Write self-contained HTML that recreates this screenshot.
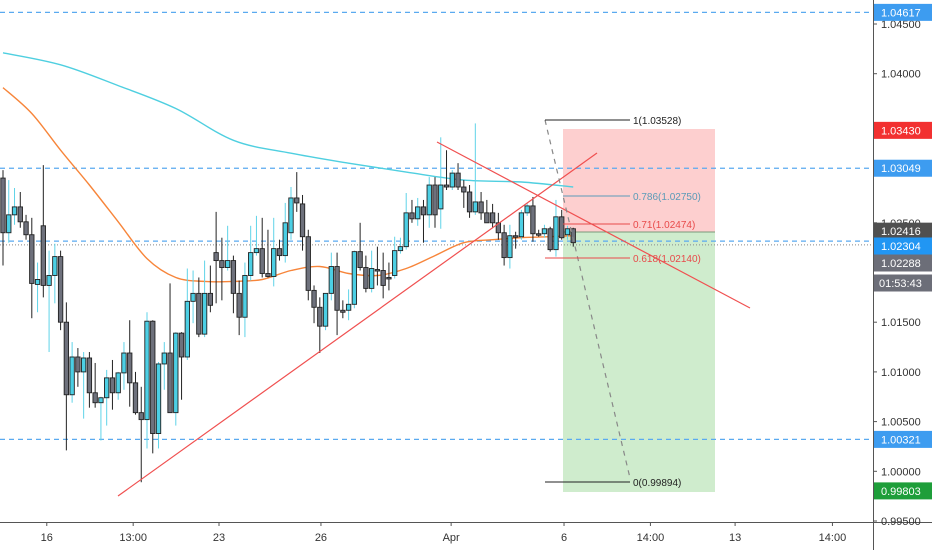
<!DOCTYPE html>
<html><head><meta charset="utf-8"><style>
body{margin:0;background:#fff;font-family:"Liberation Sans",sans-serif}
svg{display:block}
</style></head><body>
<svg id="chart" width="932" height="550" xmlns="http://www.w3.org/2000/svg" font-family="Liberation Sans, sans-serif" font-size="11"></svg>
<script>
const opens=[1.0295,1.0240,1.0258,1.0266,1.0251,1.0238,1.0188,1.0247,1.0187,1.0197,1.0216,1.0150,1.0077,1.0115,1.0100,1.0114,1.0079,1.0069,1.0074,1.0094,1.0079,1.0099,1.0119,1.0089,1.0059,1.0052,1.0151,1.0038,1.0108,1.0119,1.0059,1.0139,1.0115,1.0171,1.0179,1.0138,1.0179,1.0220,1.0212,1.0205,1.0212,1.0179,1.0155,1.0197,1.0220,1.0224,1.0199,1.0196,1.0224,1.0217,1.0240,1.0275,1.0269,1.0236,1.0182,1.0165,1.0146,1.0179,1.0206,1.0162,1.0162,1.0168,1.0221,1.0205,1.0184,1.0203,1.0202,1.0195,1.0197,1.0222,1.0226,1.0260,1.0254,1.0266,1.0258,1.0288,1.0264,1.0288,1.0286,1.0300,1.0286,1.0281,1.0261,1.0271,1.0260,1.0260,1.0250,1.0240,1.0215,1.0237,1.0236,1.0260,1.0267,1.0239,1.0239,1.0244,1.0223,1.0256,1.0238,1.0244];
const highs=[1.0303,1.0293,1.0285,1.0281,1.0258,1.0255,1.0210,1.0308,1.0222,1.0229,1.0222,1.0170,1.0130,1.0124,1.0120,1.0120,1.0109,1.0075,1.0102,1.0112,1.0100,1.0130,1.0152,1.0100,1.0085,1.0160,1.0152,1.0110,1.0130,1.0189,1.0140,1.0140,1.0204,1.0202,1.0195,1.0212,1.0207,1.0261,1.0235,1.0247,1.0217,1.0192,1.0210,1.0247,1.0257,1.0255,1.0243,1.0255,1.0233,1.0270,1.0286,1.0301,1.0278,1.0243,1.0187,1.0175,1.0167,1.0220,1.0220,1.0172,1.0183,1.0222,1.0250,1.0217,1.0222,1.0226,1.0220,1.0210,1.0236,1.0235,1.0280,1.0273,1.0275,1.0273,1.0296,1.0296,1.0336,1.0323,1.0303,1.0310,1.0293,1.0288,1.0350,1.0281,1.0273,1.0269,1.0260,1.0248,1.0248,1.0241,1.0263,1.0270,1.0276,1.0243,1.0248,1.0246,1.0273,1.0263,1.0247,1.0245];
const lows=[1.0207,1.0230,1.0248,1.0245,1.0233,1.0154,1.0160,1.0175,1.0120,1.0169,1.0142,1.0021,1.0069,1.0085,1.0053,1.0064,1.0064,1.0031,1.0046,1.0062,1.0072,1.0082,1.0065,1.0057,0.9989,1.0023,1.0018,1.0023,1.0082,1.0059,1.0046,1.0072,1.0112,1.0149,1.0135,1.0135,1.0160,1.0169,1.0172,1.0202,1.0159,1.0137,1.0135,1.0192,1.0217,1.0195,1.0195,1.0186,1.0212,1.0210,1.0233,1.0261,1.0222,1.0172,1.0149,1.0119,1.0142,1.0172,1.0137,1.0154,1.0152,1.0164,1.0202,1.0180,1.0180,1.0187,1.0174,1.0182,1.0194,1.0219,1.0223,1.0250,1.0247,1.0230,1.0245,1.0245,1.0244,1.0283,1.0283,1.0283,1.0265,1.0255,1.0258,1.0253,1.0250,1.0245,1.0233,1.0207,1.0204,1.0224,1.0233,1.0257,1.0231,1.0236,1.0235,1.0221,1.0216,1.0233,1.0233,1.0226];
const closes=[1.0240,1.0258,1.0266,1.0251,1.0238,1.0189,1.0193,1.0187,1.0197,1.0216,1.0150,1.0077,1.0115,1.0100,1.0114,1.0079,1.0069,1.0074,1.0094,1.0079,1.0099,1.0119,1.0089,1.0059,1.0052,1.0151,1.0038,1.0108,1.0119,1.0059,1.0139,1.0115,1.0171,1.0179,1.0138,1.0179,1.0167,1.0212,1.0205,1.0212,1.0179,1.0155,1.0197,1.0220,1.0224,1.0199,1.0196,1.0224,1.0217,1.0250,1.0275,1.0270,1.0236,1.0182,1.0165,1.0146,1.0179,1.0206,1.0162,1.0160,1.0168,1.0221,1.0205,1.0184,1.0204,1.0202,1.0187,1.0194,1.0222,1.0226,1.0260,1.0254,1.0266,1.0258,1.0288,1.0258,1.0288,1.0286,1.0300,1.0286,1.0281,1.0261,1.0271,1.0260,1.0250,1.0250,1.0240,1.0215,1.0237,1.0236,1.0260,1.0267,1.0239,1.0238,1.0244,1.0223,1.0256,1.0235,1.0244,1.0230];
const maFastIdx=[0,5,10,15,20,25,30,35,40,45,50,55,60,65,70,75,80,85,90,95,99];
const maFast=[1.0386,1.0360,1.0323,1.0288,1.0251,1.0214,1.0195,1.0191,1.0191,1.0193,1.0202,1.0206,1.0199,1.0197,1.0204,1.0217,1.0230,1.0233,1.0235,1.0236,1.0237];
const maSlowIdx=[0,10,20,30,40,50,60,70,80,90,99];
const maSlow=[1.0421,1.0409,1.0388,1.0365,1.0333,1.0320,1.0310,1.0301,1.0293,1.0291,1.0286];
const priceTicks=[1.045,1.04,1.025,1.015,1.01,1.005,1.0,0.995];
const timeLabels=["16","13:00","23","26","Apr","6","14:00","13","14:00"];
const timeIdx=[7.6,22.6,37.5,55.2,77.8,97.4,112.4,127.1,144];

const svg=document.getElementById('chart');
const NS='http://www.w3.org/2000/svg';
const Y=p=>24+(1.045-p)*9940;
const X=i=>3+i*5.76;
function mk(tag,attrs,parent){const e=document.createElementNS(NS,tag);for(const k in attrs)e.setAttribute(k,attrs[k]);(parent||svg).appendChild(e);return e;}

let g=mk('g',{});


mk('rect',{x:563,y:129,width:152,height:103,fill:'#fdcfcf'},g);
mk('rect',{x:563,y:232,width:152,height:260,fill:'#cfeccd'},g);
mk('line',{x1:563,y1:232,x2:715,y2:232,stroke:'#7a9a7a','stroke-width':1},g);

const hl=mk('g',{});


[1.04617,1.03049,1.00321,1.02316].forEach(p=>{
  const l=mk('line',{x1:0,x2:873,y1:Y(p),y2:Y(p),stroke:'#5aaaf0','stroke-width':1.2,'stroke-dasharray':'5,4'},hl);
  
  
});
mk('line',{x1:0,x2:873,y1:Y(1.02288)+1,y2:Y(1.02288)+1,stroke:'#888','stroke-width':1,'stroke-dasharray':'1,2'},hl);

function maPath(idx,vals,color,name){
  const pts=idx.map((i,k)=>[X(i),Y(vals[k])]);
  let d='M'+pts[0][0].toFixed(1)+','+pts[0][1].toFixed(1);
  for(let k=0;k<pts.length-1;k++){
    const p0=pts[Math.max(k-1,0)],p1=pts[k],p2=pts[k+1],p3=pts[Math.min(k+2,pts.length-1)];
    const c1=[p1[0]+(p2[0]-p0[0])/6,p1[1]+(p2[1]-p0[1])/6];
    const c2=[p2[0]-(p3[0]-p1[0])/6,p2[1]-(p3[1]-p1[1])/6];
    d+='C'+c1.map(v=>v.toFixed(1)).join(',')+' '+c2.map(v=>v.toFixed(1)).join(',')+' '+p2.map(v=>v.toFixed(1)).join(',');
  }
  const p=mk('path',{d:d,fill:'none',stroke:color,'stroke-width':1.4});
  
  
}
maPath(maSlowIdx,maSlow,'#4fcfe0','ma-slow-line');
maPath(maFastIdx,maFast,'#f7853a','ma-fast-line');

const cg=mk('g',{});


for(let i=0;i<opens.length;i++){
  const bull=closes[i]>=opens[i];
  const x=X(i);
  const c=mk('g',{},cg);
  
  
  mk('line',{x1:x,x2:x,y1:Y(highs[i]),y2:Y(lows[i]),stroke:bull?'#5fd3e8':'#222','stroke-width':1},c);
  const top=Y(Math.max(opens[i],closes[i])),bot=Y(Math.min(opens[i],closes[i]));
  mk('rect',{x:x-2.2,y:top,width:4.4,height:Math.max(bot-top,1.5),fill:bull?'#4ccfe4':'#6e717c',stroke:'#222','stroke-width':0.9},c);
}

const dr=mk('g',{});


mk('line',{x1:118,y1:496,x2:597,y2:153,stroke:'#f05050','stroke-width':1.2},dr);
mk('line',{x1:437,y1:142,x2:750,y2:308,stroke:'#f05050','stroke-width':1.2},dr);
mk('line',{x1:545,y1:120,x2:630,y2:478,stroke:'#888','stroke-width':1.2,'stroke-dasharray':'5,5'},dr);
const fib=[[120,'1(1.03528)','#222',545],[196,'0.786(1.02750)','#5b9bb8',563],[224,'0.71(1.02474)','#e84a4a',563],[258,'0.618(1.02140)','#e84a4a',545],[482,'0(0.99894)','#222',545]];
fib.forEach(f=>{
  mk('line',{x1:f[3],x2:630,y1:f[0],y2:f[0],stroke:f[2],'stroke-width':1},dr);
  const t=mk('text',{x:633,y:f[0]+4,fill:f[2],'font-size':10},dr);t.textContent=f[1];
  
  
});

mk('rect',{x:873,y:0,width:59,height:550,fill:'#fff'});
mk('rect',{x:0,y:522,width:932,height:28,fill:'#fff'});
mk('line',{x1:873.5,x2:873.5,y1:0,y2:550,stroke:'#555','stroke-width':1});
mk('line',{x1:0,x2:932,y1:522.5,y2:522.5,stroke:'#555','stroke-width':1});
const ya=mk('g',{});


priceTicks.forEach(p=>{
  mk('line',{x1:873,x2:877,y1:Y(p),y2:Y(p),stroke:'#555'},ya);
  const t=mk('text',{x:881,y:Y(p)+4,fill:'#333'},ya);t.textContent=p.toFixed(5);
  
  
});
const boxes=[[1.04617,'1.04617','#3d9cf0'],[1.0343,'1.03430','#f23030'],[1.03049,'1.03049','#3d9cf0'],[1.02416,'1.02416','#505050'],[1.02304,'1.02304','#2196f3'],[1.02288,'1.02288','#6c6e78']];
boxes.forEach((b,k)=>{
  let y=Y(b[0]);
  if(k==4)y=246;if(k==5)y=263;
  const r=mk('rect',{x:874,y:y-8.5,width:58,height:17,fill:b[2]},ya);
  
  
  const t=mk('text',{x:881,y:y+4,fill:'#fff'},ya);t.textContent=b[1];
});
mk('rect',{x:874,y:274.5,width:58,height:17,fill:'#6c6e78'},ya);
let tt=mk('text',{x:879,y:287,fill:'#fff'},ya);tt.textContent='01:53:43';


mk('rect',{x:874,y:Y(1.00321)-8.5,width:58,height:17,fill:'#3d9cf0'},ya);
tt=mk('text',{x:881,y:Y(1.00321)+4,fill:'#fff'},ya);tt.textContent='1.00321';
mk('rect',{x:874,y:Y(0.99803)-8.5,width:58,height:17,fill:'#1e9e3a'},ya);
tt=mk('text',{x:881,y:Y(0.99803)+4,fill:'#fff'},ya);tt.textContent='0.99803';

const xa=mk('g',{});


timeLabels.forEach((l,k)=>{
  const x=X(timeIdx[k]);
  mk('line',{x1:x,x2:x,y1:522,y2:526,stroke:'#555'},xa);
  const t=mk('text',{x:x,y:541,fill:'#333','text-anchor':'middle'},xa);t.textContent=l;
  
  
});
</script>
</body></html>
